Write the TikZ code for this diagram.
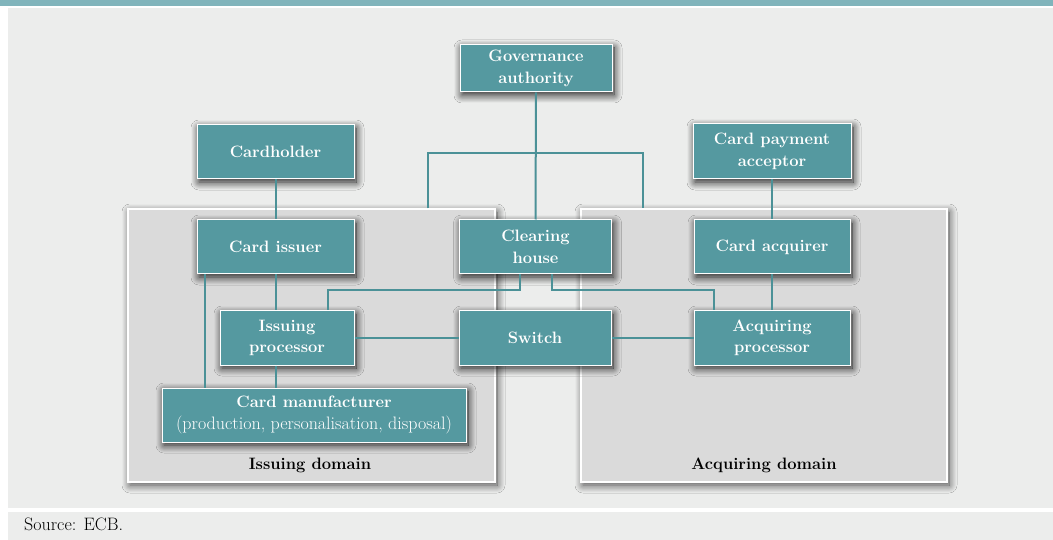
\documentclass[tikz,border=0pt]{standalone}
\usetikzlibrary{shadows.blur}
\definecolor{nodefill}{HTML}{5599A0}
\definecolor{linecol}{HTML}{4B9197}
\definecolor{bgcol}{HTML}{ECEDEC}
\definecolor{topbar}{HTML}{80B4BB}
\definecolor{domfill}{HTML}{DADADA}
\tikzset{
  box/.style={draw=white, line width=1pt, fill=nodefill, text=white, align=center,
    font=\fontsize{16.5}{21.5}\selectfont\bfseries, inner sep=2pt,
    blur shadow={shadow xshift=2pt, shadow yshift=-3pt, shadow blur radius=8pt, shadow opacity=90, shadow blur steps=14}},
  dombox/.style={draw=white, line width=1.2pt, fill=domfill,
    blur shadow={shadow xshift=2pt, shadow yshift=-3pt, shadow blur radius=8pt, shadow opacity=70, shadow blur steps=14}},
  conn/.style={draw=linecol, line width=2pt},
  domlabel/.style={font=\fontsize{16.5}{21.5}\selectfont\bfseries, text=black}
}
\begin{document}
\begin{tikzpicture}[x=1pt,y=-1pt]
\useasboundingbox (0,0) rectangle (1053,540);
% background
\fill[white] (0,0) rectangle (1053,540);
\fill[topbar] (0,0) rectangle (1053,6);
\fill[bgcol] (8,8) rectangle (1053,508);
\fill[bgcol] (8,512) rectangle (1053,540);
% domains
\node[dombox, minimum width=367pt, minimum height=273pt] (issdom) at (311.5,345.5) {};
\node[dombox, minimum width=366pt, minimum height=273pt] (acqdom) at (764,345.5) {};
\node[domlabel] (isslab) at (310,465) {Issuing domain};
\node[domlabel] (acqlab) at (764,465) {Acquiring domain};
% nodes
\node[box, minimum width=152pt, minimum height=47pt] (ga) at (536,68.5) {Governance\\authority};
\node[box, minimum width=157pt, minimum height=54pt] (holder) at (275.5,152) {Cardholder};
\node[box, minimum width=158pt, minimum height=55pt] (cpa) at (772,151.5) {Card payment\\acceptor};
\node[box, minimum width=157pt, minimum height=54pt] (issuer) at (275.5,247) {Card issuer};
\node[box, minimum width=152pt, minimum height=54pt] (clearing) at (535.5,247) {Clearing\\house};
\node[box, minimum width=156pt, minimum height=54pt] (acquirer) at (772,247) {Card acquirer};
\node[box, minimum width=134pt, minimum height=54pt] (issproc) at (287,338) {Issuing\\processor};
\node[box, minimum width=152pt, minimum height=54pt] (switch) at (535,338) {Switch};
\node[box, minimum width=156pt, minimum height=54pt] (acqproc) at (772,338) {Acquiring\\processor};
\node[box, minimum width=304pt, minimum height=54pt] (manuf) at (314,415) {Card manufacturer\\{\fontsize{18}{21.5}\selectfont\mdseries (production, personalisation, disposal)}};
% connectors
\draw[conn] (ga.south) -- (clearing.north);
\draw[conn] (ga.south |- issdom.north) ++(-108pt,0) |- ([yshift=-61pt]ga.south) -| ([xshift=107pt]ga.south |- acqdom.north);
\draw[conn] (holder.south) -- (issuer.north);
\draw[conn] (cpa.south) -- (acquirer.north);
\draw[conn] (issuer.south) -- (issuer.south |- issproc.north);
\draw[conn] (issuer.south |- issproc.south) -- (issuer.south |- manuf.north);
\draw[conn] ([xshift=8pt]issuer.south west) -- ([xshift=8pt]issuer.south west |- manuf.north);
\draw[conn] (issproc.east) -- (switch.west);
\draw[conn] (switch.east) -- (acqproc.west);
\draw[conn] (acquirer.south) -- (acqproc.north);
\draw[conn] ([xshift=-16pt]clearing.south) -- ++(0,16) -| ([xshift=41pt]issproc.north);
\draw[conn] ([xshift=16pt]clearing.south) -- ++(0,16) -| ([xshift=-58pt]acqproc.north);
% source
\node[anchor=west, font=\fontsize{18}{21.5}\selectfont, inner sep=0pt] (src) at (24,524) {Source: ECB.};
\end{tikzpicture}
\end{document}
